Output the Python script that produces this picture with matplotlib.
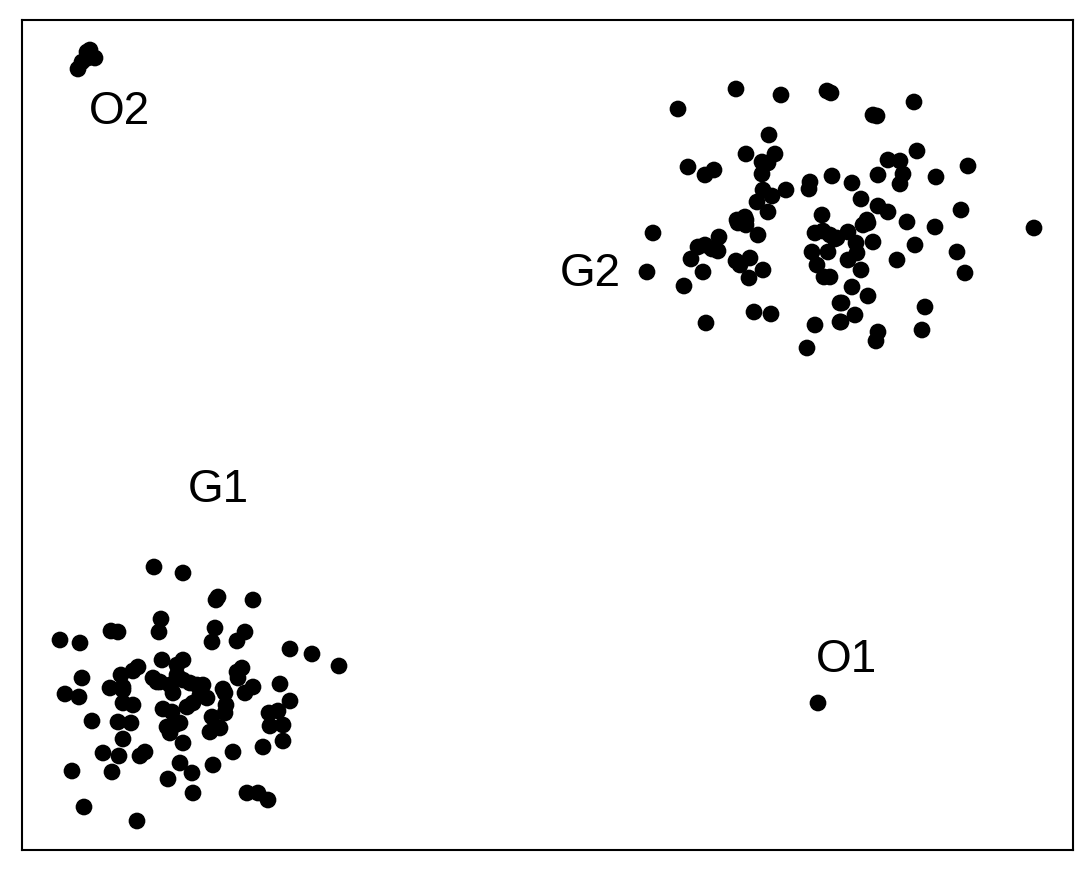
import matplotlib
matplotlib.use("Agg")
import matplotlib.pyplot as plt

# point positions (x to the right, y downwards)
g1_x = [154, 183, 216, 218, 253, 161, 159, 111, 118, 215, 245, 237, 212, 60, 80,
        290, 312, 339, 162, 183, 177, 138, 133, 82, 121, 153, 160, 177, 183, 170,
        197, 110, 123, 65, 79, 123, 242, 237, 238, 190, 203, 223, 253, 280, 200,
        193, 207, 225, 245, 290, 226, 225, 212, 220, 210, 269, 278, 270, 283, 283,
        263, 233, 213, 192, 193, 247, 258, 268, 123, 133, 92, 118, 131, 163, 172,
        167, 175, 180, 170, 183, 123, 103, 119, 140, 145, 72, 112, 180, 168, 84,
        137, 187, 173, 157]
g1_y = [567, 573, 600, 597, 600, 619, 632, 631, 632, 628, 632, 641, 642, 640, 643,
        649, 654, 666, 660, 660, 665, 667, 671, 678, 675, 678, 682, 675, 680, 685,
        685, 688, 687, 694, 697, 690, 668, 672, 678, 683, 685, 689, 687, 684, 695,
        703, 698, 693, 693, 701, 705, 713, 717, 728, 732, 713, 711, 726, 725, 741,
        747, 752, 765, 773, 793, 793, 793, 800, 703, 705, 721, 722, 723, 709, 712,
        727, 725, 723, 733, 743, 739, 753, 756, 756, 752, 771, 772, 763, 779, 807,
        821, 707, 693, 682]

g2_x = [678, 736, 781, 827, 831, 769, 746, 775, 762, 768, 762, 688, 705, 714, 832,
        810, 809, 786, 763, 772, 757, 768, 822, 745, 737, 873, 877, 914, 917, 888,
        900, 903, 900, 878, 852, 861, 878, 888, 867, 936, 968, 961, 907, 653, 647,
        684, 706, 691, 698, 705, 712, 718, 719, 703, 736, 740, 750, 749, 763, 758,
        738, 746, 746, 754, 771, 815, 823, 830, 837, 812, 828, 817, 824, 815, 807,
        840, 840, 863, 868, 848, 835, 856, 857, 848, 873, 935, 915, 957, 897, 965,
        861, 1034, 852, 868, 842, 855, 841, 925, 922, 878, 876, 830]
g2_y = [109, 89, 95, 91, 93, 135, 154, 154, 162, 163, 174, 167, 175, 170, 176,
        182, 189, 190, 190, 196, 202, 212, 215, 217, 220, 115, 116, 102, 151, 160,
        161, 174, 184, 175, 183, 199, 206, 212, 220, 177, 166, 210, 222, 233, 272,
        286, 323, 259, 247, 245, 249, 251, 237, 272, 261, 265, 258, 278, 270, 235,
        223, 220, 225, 312, 314, 233, 231, 235, 238, 252, 252, 265, 277, 325, 348,
        303, 322, 225, 223, 232, 239, 243, 253, 260, 242, 227, 245, 252, 260, 273,
        270, 228, 287, 296, 303, 315, 322, 307, 330, 332, 341, 277]

o2_x = [78, 82, 87, 90, 95, 88]
o2_y = [69, 62, 52, 50, 58, 58]

o1_x = [818]
o1_y = [703]

labels = ["O2", "G2", "G1", "O1"]
label_x = [119, 590, 218, 846]
label_y = [112, 274, 490, 660]

W, H = 1089, 869
fig = plt.figure(figsize=(W / 100, H / 100), dpi=100)
left, right, top, bottom = 22, 1073, 20, 850
ax = fig.add_axes([left / W, (H - bottom) / H, (right - left) / W, (bottom - top) / H])

for xs, ys in [(g1_x, g1_y), (g2_x, g2_y), (o2_x, o2_y), (o1_x, o1_y)]:
    ax.scatter(xs, ys, s=145, c="black", edgecolors="none")

for lab, lx, ly in zip(labels, label_x, label_y):
    ax.text(lx, ly, lab, ha="center", va="center", fontsize=33,
            family="Liberation Sans", color="black")

ax.set_xlim(left, right)
ax.set_ylim(bottom, top)
ax.set_xticks([])
ax.set_yticks([])
for sp in ax.spines.values():
    sp.set_linewidth(1.5)
    sp.set_color("black")

fig.savefig("out.png", dpi=100)
